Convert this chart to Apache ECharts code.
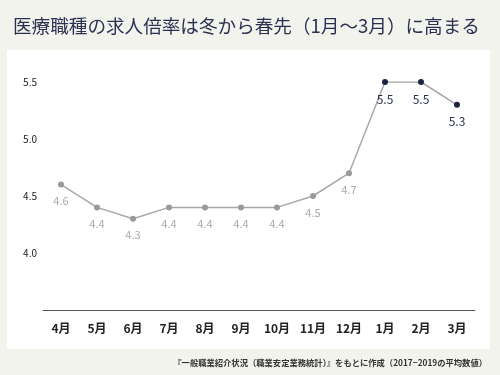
<!DOCTYPE html>
<html><head><meta charset="utf-8">
<script src="https://cdn.jsdelivr.net/npm/echarts@6/dist/echarts.min.js"></script>
<style>html,body{margin:0;padding:0;background:#f3f3ee;}#c{width:500px;height:375px;}</style>
</head><body><div id="c"></div>
<script>
const categories = ['4月','5月','6月','7月','8月','9月','10月','11月','12月','1月','2月','3月'];
const values = [4.6,4.4,4.3,4.4,4.4,4.4,4.4,4.5,4.7,5.5,5.5,5.3];
const highlight = [false,false,false,false,false,false,false,false,false,true,true,true];
const yTicks = [3.5,4.0,4.5,5.0,5.5];
const titleText = '医療職種の求人倍率は冬から春先（1月～3月）に高まる';
const noteText = '『一般職業紹介状況（職業安定業務統計）』をもとに作成（2017−2019の平均数値）';

const font = '"Noto Sans CJK JP", "Noto Sans", sans-serif';
const chart = echarts.init(document.getElementById('c'));
const seriesData = values.map((v,i)=>({
  value: v,
  itemStyle: {color: highlight[i] ? '#1c2540' : '#9a9a9a'},
  label: highlight[i] ? {color:'#2a3350', fontSize:12} : {color:'#a9a9a9', fontSize:11}
}));
chart.setOption({
  backgroundColor: '#f3f3ee',
  animation: false,
  graphic: [{type:'rect', shape:{x:7,y:50,width:483,height:299}, style:{fill:'#ffffff'}, z:-10}],
  title: [{
    text: titleText, left: 13, top: 17, padding: 0,
    textStyle: {fontFamily: font, fontSize: 18.6, fontWeight: 'normal', color: '#2b3150'}
  },{
    text: noteText, right: 13, top: 359, padding: 0,
    textStyle: {fontFamily: font, fontSize: 8.3, fontWeight: 'bold', color: '#333'}
  }],
  grid: {left: 43, right: 25, top: 82, bottom: 65},
  xAxis: [{
    type: 'category', data: categories, boundaryGap: true,
    axisLine: {lineStyle: {color: '#555', width: 1}},
    axisTick: {alignWithLabel: true, length: 3, lineStyle:{color:'#555'}},
    axisLabel: {color: '#222', fontSize: 12, fontWeight: 'bold', fontFamily: font, margin: 12}
  },{
    type: 'category', data: categories, boundaryGap: true, position: 'bottom',
    axisLine: {show: false},
    axisTick: {alignWithLabel: true, inside: true, length: 3, lineStyle:{color:'#555'}},
    axisLabel: {show: false}
  }],
  yAxis: {
    type: 'value', min: yTicks[0], max: yTicks[yTicks.length-1], interval: 0.5,
    axisLine: {show: false}, axisTick: {show: false}, splitLine: {show: false},
    axisLabel: {showMinLabel: false, color: '#222', fontSize: 10, fontFamily: font, margin: 6,
      formatter: v => v.toFixed(1)}
  },
  series: [{
    type: 'line', data: seriesData, symbol: 'circle', symbolSize: 6,
    lineStyle: {color: '#a8a8a8', width: 1.5},
    label: {show: true, position: 'bottom', distance: 8, fontFamily: font, formatter: p => p.value.toFixed(1)}
  }]
});
</script></body></html>
